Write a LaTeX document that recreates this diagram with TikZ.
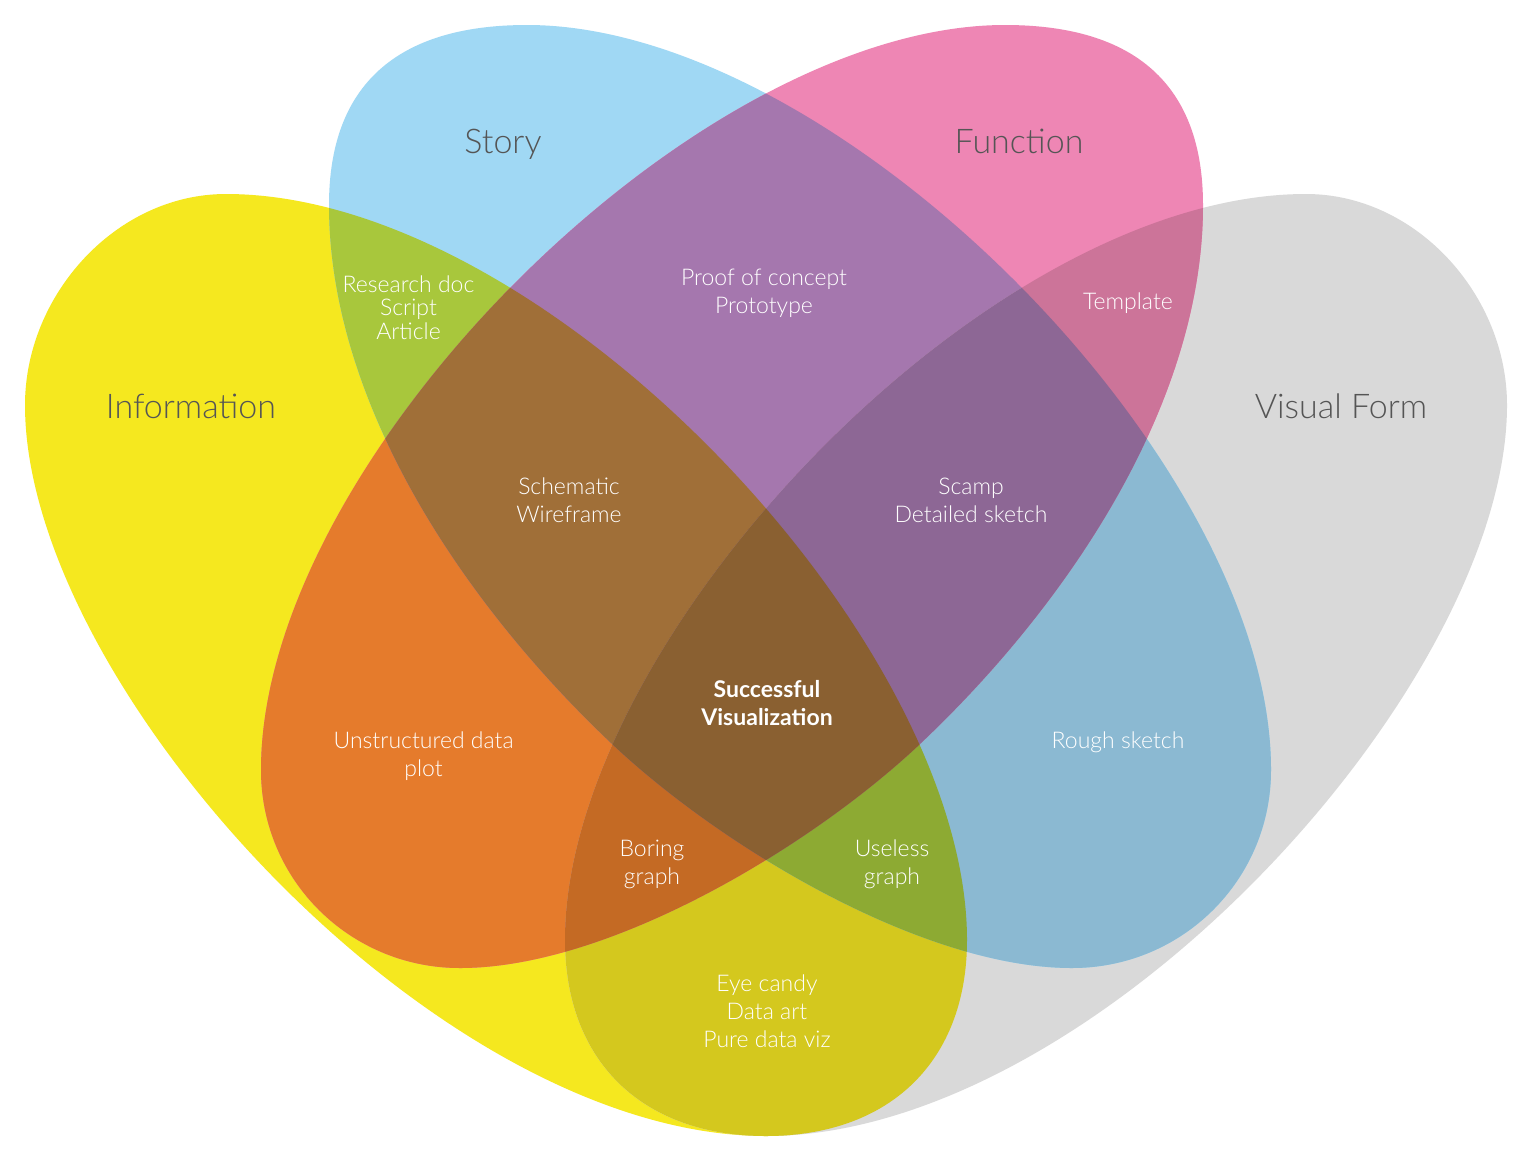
\documentclass[tikz,border=0pt]{standalone}
\usepackage{fontspec}
\setmainfont{Lato}[UprightFont=* Light, BoldFont=* Bold]
% single sets
\definecolor{cY}{HTML}{F5E81F}
\definecolor{cB}{HTML}{A0D8F4}
\definecolor{cP}{HTML}{EE86B4}
\definecolor{cG}{HTML}{D9D9D9}
% pairs
\definecolor{cYB}{HTML}{A8C73C}
\definecolor{cYP}{HTML}{E57B2C}
\definecolor{cYG}{HTML}{D4C81E}
\definecolor{cBP}{HTML}{A577AE}
\definecolor{cBG}{HTML}{8BB9D2}
\definecolor{cPG}{HTML}{CC7499}
% triples
\definecolor{cYBP}{HTML}{A06F38}
\definecolor{cYBG}{HTML}{8DAA33}
\definecolor{cYPG}{HTML}{C46A24}
\definecolor{cBPG}{HTML}{8D6795}
% all four
\definecolor{cYBPG}{HTML}{8A6031}
\definecolor{labelgrey}{HTML}{555555}
\tikzset{
  biglabel/.style={font=\fontsize{34}{40}\selectfont, text=labelgrey, inner sep=0pt, anchor=base},
  smalllabel/.style={font=\fontsize{23}{28}\selectfont, text=white, align=center, inner sep=0pt, anchor=base},
}
% Information (yellow)
\def\pY{(226,194) .. controls (116,194) and (25,295) .. (25,405)
 .. controls (25,685) and (436,1136) .. (766,1136)
 .. controls (891,1136) and (967,1060) .. (967,940)
 .. controls (967,640) and (546,194) .. (226,194) -- cycle}
% Visual Form (grey), mirror of yellow
\def\pG{(1306,194) .. controls (1416,194) and (1507,295) .. (1507,405)
 .. controls (1507,685) and (1096,1136) .. (766,1136)
 .. controls (641,1136) and (565,1060) .. (565,940)
 .. controls (565,640) and (986,194) .. (1306,194) -- cycle}
% Story (blue)
\def\pB{(527,25) .. controls (397,25) and (329,85) .. (329,205)
 .. controls (329,405) and (465.8,605.6) .. (611,743)
 .. controls (719.9,846) and (922,968) .. (1072,968)
 .. controls (1182,968) and (1271,880) .. (1271,770)
 .. controls (1271,460) and (837,25) .. (527,25) -- cycle}
% Function (pink), mirror of blue
\def\pP{(1005,25) .. controls (1135,25) and (1203,85) .. (1203,205)
 .. controls (1203,405) and (1066.2,605.6) .. (921,743)
 .. controls (812.1,846) and (610,968) .. (460,968)
 .. controls (350,968) and (261,880) .. (261,770)
 .. controls (261,460) and (695,25) .. (1005,25) -- cycle}
\begin{document}
\begin{tikzpicture}[x=1pt,y=-1pt]
\useasboundingbox (0,0) rectangle (1533,1162);
\fill[white] (0,0) rectangle (1533,1162);
% single sets
\fill[cY] \pY;
\fill[cG] \pG;
\fill[cB] \pB;
\fill[cP] \pP;
% pairs
\begin{scope}\clip \pY; \fill[cYB] \pB; \end{scope}
\begin{scope}\clip \pY; \fill[cYP] \pP; \end{scope}
\begin{scope}\clip \pY; \fill[cYG] \pG; \end{scope}
\begin{scope}\clip \pB; \fill[cBP] \pP; \end{scope}
\begin{scope}\clip \pB; \fill[cBG] \pG; \end{scope}
\begin{scope}\clip \pP; \fill[cPG] \pG; \end{scope}
% triples
\begin{scope}\clip \pY; \clip \pB; \fill[cYBP] \pP; \end{scope}
\begin{scope}\clip \pY; \clip \pB; \fill[cYBG] \pG; \end{scope}
\begin{scope}\clip \pY; \clip \pP; \fill[cYPG] \pG; \end{scope}
\begin{scope}\clip \pB; \clip \pP; \fill[cBPG] \pG; \end{scope}
% all four
\begin{scope}\clip \pY; \clip \pB; \clip \pP; \fill[cYBPG] \pG; \end{scope}
% set labels
\node[biglabel] (info) at (191,418) {Information};
\node[biglabel] (story) at (503,153) {Story};
\node[biglabel] (func) at (1019,153) {Function};
\node[biglabel] (visual) at (1341,418) {Visual Form};
% region labels (anchor = baseline of the last line)
\node[smalllabel, font=\fontsize{23}{23.5}\selectfont] (research) at (408.5,339) {Research doc\\Script\\Article};
\node[smalllabel] (proof) at (764,313) {Proof of concept\\Prototype};
\node[smalllabel] (template) at (1128,309) {Template};
\node[smalllabel] (schem) at (569,522) {Schematic\\Wireframe};
\node[smalllabel] (scamp) at (971,522) {Scamp\\Detailed sketch};
\node[smalllabel, font=\fontsize{23}{28}\selectfont\bfseries] (success) at (767,725) {Successful\\Visualization};
\node[smalllabel] (unstr) at (423.6,776) {Unstructured data\\plot};
\node[smalllabel] (rough) at (1118,748) {Rough sketch};
\node[smalllabel] (boring) at (652,884) {Boring\\graph};
\node[smalllabel] (useless) at (892,884) {Useless\\graph};
\node[smalllabel] (eye) at (767,1047) {Eye candy\\Data art\\Pure data viz};
\end{tikzpicture}
\end{document}
